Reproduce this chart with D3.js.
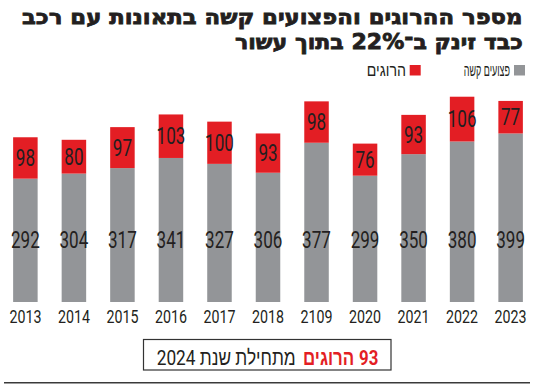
<!DOCTYPE html>
<html>
<head>
<meta charset="utf-8">
<script src="https://cdn.jsdelivr.net/npm/d3@7"></script>
<style>
  body { margin: 0; background: #fff; }
  svg { display: block; }
</style>
</head>
<body>
<svg id="chart" width="550" height="388"></svg>
<script>
const years = ['2013', '2014', '2015', '2016', '2017', '2018', '2109', '2020', '2021', '2022', '2023'];
const injured = [292, 304, 317, 341, 327, 306, 377, 299, 350, 380, 399];
const killed = [98, 80, 97, 103, 100, 93, 98, 76, 93, 106, 77];
const titleLines = ['מספר ההרוגים והפצועים קשה בתאונות עם רכב', 'כבד זינק ב־22% בתוך עשור'];
const legendLabels = ['פצועים קשה', 'הרוגים'];
const noteCount = '93';
const noteWord = 'הרוגים';
const noteRest = 'מתחילת שנת 2024';

const grey = '#939598';
const red = '#e31e24';
const ink = '#231f20';
const narrow = '"Roboto", "Liberation Sans", sans-serif';
const hebrew = '"Liberation Sans", "DejaVu Sans", sans-serif';

const svg = d3.select('#chart');

// squeeze a text horizontally so it spans [left, left + w]
const fit = (sel, left, baseline, w) => sel.each(function () {
    const s = w / this.getComputedTextLength();
    d3.select(this)
        .attr('text-anchor', 'start')
        .attr('transform', `translate(${left}, ${baseline}) scale(${s}, 1)`);
});

const rows = years.map((yr, i) => ({ year: yr, injured: injured[i], killed: killed[i] }));
const series = d3.stack().keys(['injured', 'killed'])(rows);

const x = d3.scaleBand()
    .domain(years)
    .range([1, 535])
    .paddingInner(0.495)
    .paddingOuter(0.25);

const y = d3.scaleLinear()
    .domain([0, 500])
    .range([302, 90.8]);

const colors = { injured: grey, killed: red };

const digitW = 9.6;

// title
const titleBox = [[22, 24, 501], [235, 48.5, 288]];
titleLines.forEach((line, i) => {
    svg.append('text')
        .attr('font-family', '"DejaVu Sans", "Liberation Sans", sans-serif')
        .attr('font-weight', 'bold')
        .attr('font-size', 21)
        .attr('fill', ink)
        .attr('stroke', ink)
        .attr('stroke-width', 0.8)
        .text(line)
        .call(fit, ...titleBox[i]);
});

// legend
const legend = [
    { label: legendLabels[0], color: grey, sq: 514, tx: 463.7, tw: 46.3 },
    { label: legendLabels[1], color: red, sq: 409.7, tx: 366.7, tw: 39.3 }
];
legend.forEach(d => {
    svg.append('rect')
        .attr('x', d.sq).attr('y', 65)
        .attr('width', 11).attr('height', 10.5)
        .attr('fill', d.color);
    svg.append('text')
        .attr('font-family', hebrew)
        .attr('font-size', 17)
        .attr('fill', ink)
        .text(d.label)
        .call(fit, d.tx, 76, d.tw);
});

// bars
const g = svg.append('g');
g.selectAll('g.layer').data(series)
    .enter().append('g')
    .attr('class', 'layer')
    .attr('fill', d => colors[d.key])
    .selectAll('rect').data(d => d)
    .enter().append('rect')
    .attr('x', d => x(d.data.year))
    .attr('y', d => y(d[1]))
    .attr('width', x.bandwidth())
    .attr('height', d => y(d[0]) - y(d[1]));

// value labels
const cx = d => x(d.data.year) + x.bandwidth() / 2;
g.selectAll('text.inj').data(series[0])
    .enter().append('text')
    .attr('class', 'inj')
    .attr('x', cx)
    .attr('y', y(146.5))
    .attr('dy', '0.36em')
    .attr('text-anchor', 'middle')
    .attr('textLength', d => String(d.data.injured).length * digitW)
    .attr('lengthAdjust', 'spacingAndGlyphs')
    .attr('font-family', narrow)
    .attr('font-size', 23)
    .attr('fill', ink)
    .text(d => d.data.injured);

g.selectAll('text.kil').data(series[1])
    .enter().append('text')
    .attr('class', 'kil')
    .attr('x', cx)
    .attr('y', d => y((d[0] + d[1]) / 2))
    .attr('dy', '0.36em')
    .attr('text-anchor', 'middle')
    .attr('textLength', d => String(d.data.killed).length * digitW)
    .attr('lengthAdjust', 'spacingAndGlyphs')
    .attr('font-family', narrow)
    .attr('font-size', 23)
    .attr('fill', ink)
    .text(d => d.data.killed);

// year axis
const xAxisG = svg.append('g')
    .attr('transform', `translate(0, ${y(0)})`)
    .call(d3.axisBottom(x).tickSize(0).tickPadding(0));
xAxisG.select('.domain').remove();
xAxisG.selectAll('text')
    .attr('y', 14.7)
    .attr('dy', '0.36em')
    .attr('textLength', 32)
    .attr('lengthAdjust', 'spacingAndGlyphs')
    .attr('font-family', narrow)
    .attr('font-size', 18.5)
    .attr('fill', ink);

// note box
svg.append('rect')
    .attr('x', 143.5).attr('y', 339.5)
    .attr('width', 247.5).attr('height', 30.5)
    .attr('fill', 'none')
    .attr('stroke', '#333')
    .attr('stroke-width', 1.2);
svg.append('text')
    .attr('font-family', narrow)
    .attr('font-size', 21)
    .attr('fill', ink)
    .text(noteRest)
    .call(fit, 156.7, 365, 139);
svg.append('text')
    .attr('font-family', narrow)
    .attr('font-weight', 'bold')
    .attr('font-size', 21)
    .attr('fill', red)
    .text(noteWord)
    .call(fit, 303, 365, 51.3);
svg.append('text')
    .attr('font-family', narrow)
    .attr('font-weight', 'bold')
    .attr('font-size', 21)
    .attr('fill', red)
    .text(noteCount)
    .call(fit, 359, 365, 19.3);

// bottom rule
svg.append('line')
    .attr('x1', 4).attr('x2', 530)
    .attr('y1', 382.7).attr('y2', 382.7)
    .attr('stroke', '#3a3a3a')
    .attr('stroke-width', 1.5);
</script>
</body>
</html>
